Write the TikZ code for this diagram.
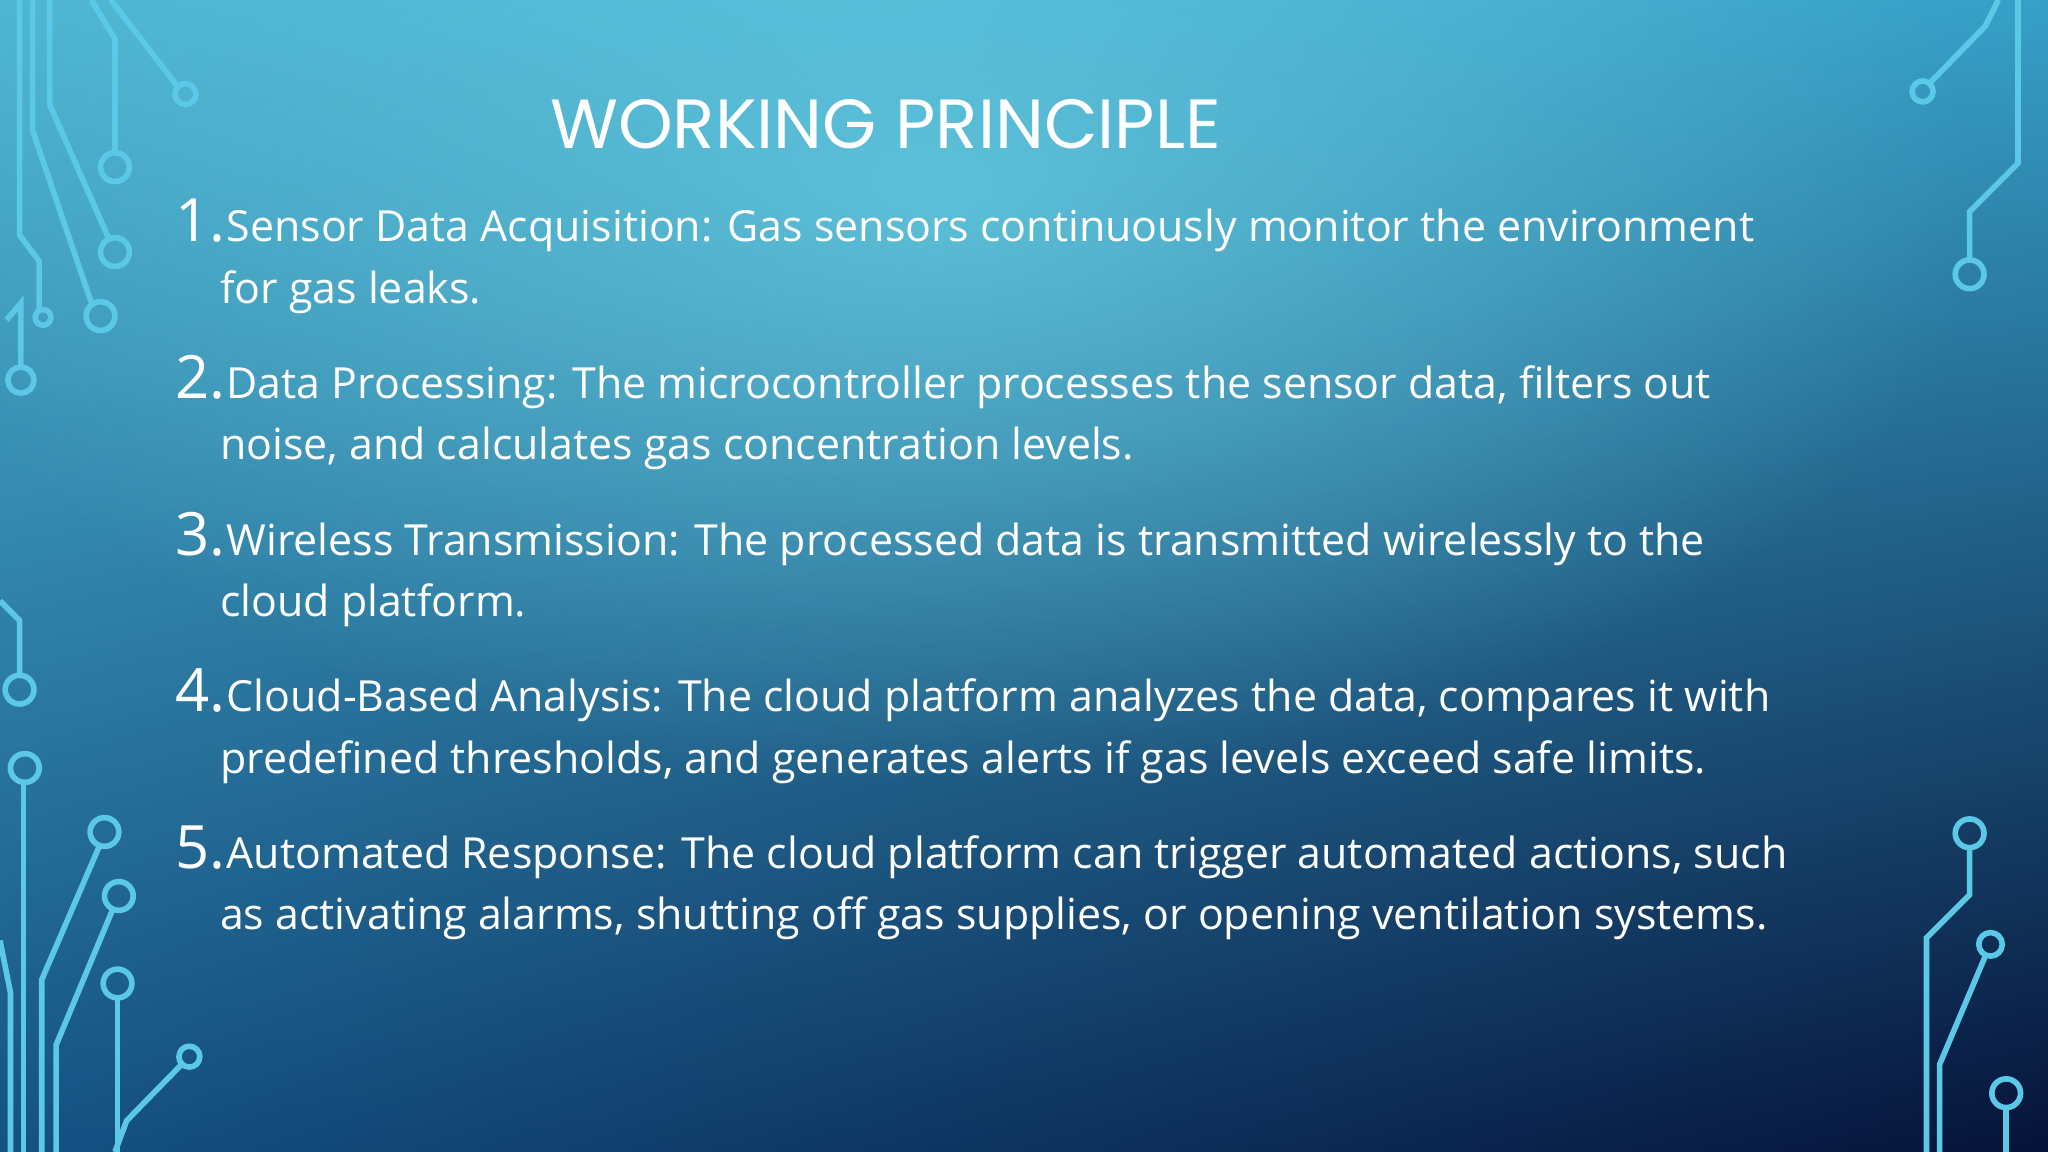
\documentclass[tikz,border=0pt]{standalone}
\usepackage{fontspec}
\usetikzlibrary{shadings,fadings}
\setmainfont{Open Sans}
\newfontfamily\titlefont{Poppins}
\definecolor{circ}{HTML}{5CC8E8}
\definecolor{bgul}{RGB}{78,182,210}
\definecolor{bgur}{RGB}{55,160,200}
\definecolor{bgll}{RGB}{20,82,132}
\definecolor{bglr}{RGB}{6,18,56}
\definecolor{glow}{RGB}{108,208,228}
\tikzfading[name=softglow, inner color=transparent!30, outer color=transparent!100]
\tikzset{
  wire/.style={draw=circ, line width=1.6pt},
  pad/.style={draw=circ, line width=1.6pt},
  num/.style={anchor=base east, text=white, font=\fontsize{17}{20}\selectfont, inner sep=0pt},
  itemtxt/.style={anchor=base west, text=white, font=\fontsize{12.2}{17.8}\selectfont, inner sep=0pt, align=left},
}
\begin{document}
\begin{tikzpicture}[x=0.013061cm, y=-0.013061cm]
\useasboundingbox (0,0) rectangle (1568,882);
\shade[upper left=bgul, upper right=bgur, lower left=bgll, lower right=bglr]
  (0,0) rectangle (1568,882);
\fill[glow, path fading=softglow]
  (720,150) ellipse (800 and 450);
% left top circuits
\draw[wire] (70,0)--(88,30)--(88,117); \draw[pad] (88,128) circle (11);
\draw[wire] (85,0)--(135,65); \draw[pad] (142,72) circle (8);
\draw[wire] (38,0)--(38,80)--(83,182); \draw[pad] (88,193) circle (11);
\draw[wire] (25,0)--(25,100)--(70,232); \draw[pad] (77,242) circle (11);
\draw[wire] (15,0)--(15,180)--(30,200)--(30,237); \draw[pad] (33,243) circle (6);
\draw[wire] (5,245)--(16,232)--(16,281); \draw[pad] (16,291) circle (10);
% left middle
\draw[wire] (0,460)--(15,475)--(15,517); \draw[pad] (15,528) circle (11);
% left bottom
\draw[wire] (18,599)--(18,882); \draw[pad] (19,588) circle (11);
\draw[wire] (76,648)--(32,750)--(32,882); \draw[pad] (80,637) circle (11);
\draw[wire] (86,697)--(43,800)--(43,882); \draw[pad] (91,686) circle (11);
\draw[wire] (90,764)--(90,882); \draw[pad] (90,753) circle (11);
\draw[wire] (139,815)--(97,858)--(88,882); \draw[pad] (145,809) circle (8);
\draw[wire] (0,720)--(8,760)--(8,882);
% right top
\draw[wire] (1530,0)--(1520,20)--(1478,63); \draw[pad] (1472,70) circle (8);
\draw[wire] (1545,0)--(1545,125)--(1508,162)--(1508,199); \draw[pad] (1508,210) circle (11);
% right bottom
\draw[wire] (1508,649)--(1508,685)--(1475,718)--(1475,882); \draw[pad] (1508,638) circle (11);
\draw[wire] (1520,732)--(1485,815)--(1485,882); \draw[pad] (1524,723) circle (9);
\draw[wire] (1536,848)--(1536,882); \draw[pad] (1536,837) circle (11);
% title
\node[anchor=base, text=white, font=\titlefont\fontsize{19.8}{24}\selectfont, inner sep=0pt] (title) at (678,114) {WORKING PRINCIPLE};
% items
\foreach \n/\y/\a/\b in {
 1/185/{Sensor Data Acquisition: Gas sensors continuously monitor the environment}/{for gas leaks.},
 2/305/{Data Processing: The microcontroller processes the sensor data, filters out}/{noise, and calculates gas concentration levels.},
 3/425/{Wireless Transmission: The processed data is transmitted wirelessly to the}/{cloud platform.},
 4/545/{Cloud-Based Analysis: The cloud platform analyzes the data, compares it with}/{predefined thresholds, and generates alerts if gas levels exceed safe limits.},
 5/665/{Automated Response: The cloud platform can trigger automated actions, such}/{as activating alarms, shutting off gas supplies, or opening ventilation systems.}}
{
 \node[num] (n\n) at (173,\y) {\n.};
 \node[itemtxt] (a\n) at (173,\y) {\a};
 \node[itemtxt] (b\n) at (168,\y+47) {\b};
}
\end{tikzpicture}
\end{document}
